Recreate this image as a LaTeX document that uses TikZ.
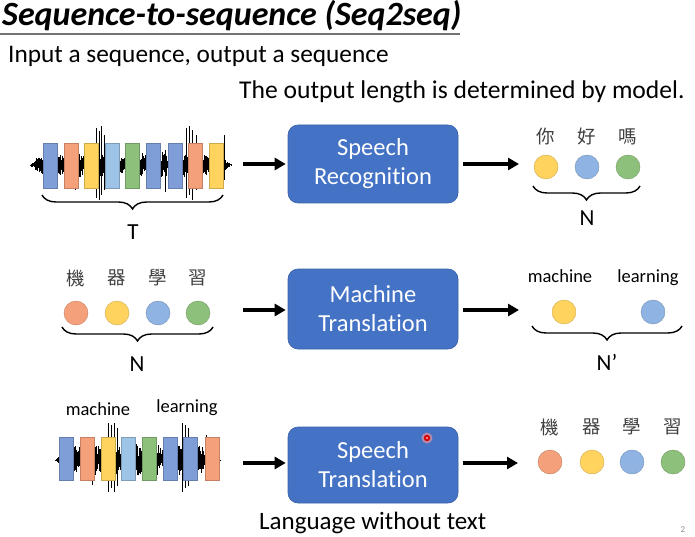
\documentclass[tikz,border=0pt]{standalone}
\usepackage{fontspec}
\setmainfont{Carlito}[Ligatures=NoCommon]
\newfontfamily\cjk{Noto Sans CJK TC}
\usetikzlibrary{arrows.meta,decorations.pathreplacing,calc}
\definecolor{boxblue}{HTML}{4472C4}
\definecolor{cblue}{HTML}{7F9ED8}
\definecolor{clight}{HTML}{9DC3E6}
\definecolor{corange}{HTML}{F4A07A}
\definecolor{cyellow}{HTML}{FFD35E}
\definecolor{cgreen}{HTML}{8DC07A}
\definecolor{ccirc}{HTML}{8FB4E3}
\newcommand\mywave[4]{%
  \pgfmathsetseed{#4}%
  \pgfmathtruncatemacro\nw{(#2-#1)/0.45}%
  \foreach \i in {0,...,\nw}{%
    \pgfmathsetmacro\xx{#1+0.45*\i}%
    \pgfmathsetmacro\env{min(1,min((\xx-#1)/14,(#2-\xx)/14))*(0.6+0.4*abs(sin(\xx*8.7)))}%
    \pgfmathsetmacro\au{\env*(3+13*rnd)}%
    \pgfmathsetmacro\ad{\env*(3+13*rnd)}%
    \draw[wavel] (\xx,#3-\au) -- (\xx,#3+\ad);
  }}
\begin{document}
\begin{tikzpicture}[x=1pt,y=-1pt,
  wavel/.style={line width=0.65pt,black},
  bar/.style={rectangle,minimum width=14pt,minimum height=45pt,inner sep=0pt,fill=#1,draw=#1!80!black,line width=0.4pt},
  dot/.style={circle,minimum size=24pt,inner sep=0pt,fill=#1,draw=#1!80!black,line width=0.4pt},
  proc/.style={rectangle,rounded corners=10pt,fill=boxblue,draw=boxblue!85!black,line width=0.6pt,
    minimum width=170pt,text=white,align=center,font=\fontsize{24.5}{29}\selectfont},
  arr/.style={line width=3.6pt,-{Triangle[length=11pt,width=12pt]}},
  brc/.style={decorate,decoration={brace,mirror,amplitude=14pt},line width=1.4pt},
  lab/.style={font=\fontsize{23}{26}\selectfont},
  word/.style={font=\fontsize{18.5}{20}\selectfont},
  zh/.style={font=\cjk\fontsize{18.5}{20}\selectfont,text=black!75}
]
\useasboundingbox (0,0) rectangle (695,537);
% title
\node[anchor=base west,inner sep=0pt,font=\fontsize{34}{36}\selectfont\bfseries\itshape] (title) at (2,26) {Sequence-to-sequence (Seq2seq)};
\draw[line width=1.3pt,black!55] (0,34) -- (460,34);
\node[anchor=base west,inner sep=0pt,font=\fontsize{25.3}{28}\selectfont] (sub1) at (8,63) {Input a sequence, output a sequence};
\node[anchor=base west,inner sep=0pt,font=\fontsize{25.6}{28}\selectfont] (sub2) at (239,98.5) {The output length is determined by model.};

% ---------- row 1 ----------
\mywave{30}{232}{165}{7}
\foreach \x/\t/\b in {96/128/198,99/131/200,101/126/195,104/135/190,186/128/198,189/126/195,192/130/200,196/135/190,75/150/190,165/150/192,224/135/180}
  \draw[wavel] (\x,\t) -- (\x,\b);
\foreach \x/\c [count=\k] in {50/cblue,71/corange,91/cyellow,112/clight,132.5/cgreen,153.5/cblue,175.5/cblue,195.5/corange,216.5/cyellow}
  \node[bar=\c] (ra\k) at (\x,165.5) {};
\draw[brc] (42,195) -- (223,195);
\node[lab] (T) at (133,232) {T};
\coordinate (in1) at (243,164);
\node[proc,minimum height=78pt] (sr) at (373,164) {Speech\\Recognition};
\coordinate (out1) at (519,164);
\draw[arr] (in1) -- ([xshift=-2pt]sr.west |- in1);
\draw[arr] ([xshift=5pt]sr.east |- out1) -- (out1);
\foreach \x/\c/\z [count=\k] in {546/cyellow/你,587/ccirc/好,628/cgreen/嗎}{
  \node[zh] (z1\k) at (\x,137) {\z};
  \node[dot=\c] (d1\k) at (\x,167) {};
}
\draw[brc] (533,186) -- (640,186);
\node[lab] (N1) at (587,218) {N};

% ---------- row 2 ----------
\foreach \x/\c/\z [count=\k] in {76/corange/機,117/cyellow/器,158/ccirc/學,198/cgreen/習}{
  \node[zh] (z2\k) at (\x,278) {\z};
  \node[dot=\c] (d2\k) at (\x,313) {};
}
\draw[brc] (62,327) -- (213,327);
\node[lab] (N2) at (137,364) {N};
\coordinate (in2) at (243,310);
\node[proc,minimum height=80pt] (mt) at (373,309) {Machine\\Translation};
\coordinate (out2) at (519,310);
\draw[arr] (in2) -- ([xshift=-2pt]mt.west |- in2);
\draw[arr] ([xshift=5pt]mt.east |- out2) -- (out2);
\node[word] (w21) at (560,276) {machine};
\node[word] (w22) at (648,278) {learning};
\node[dot=cyellow] (d31) at (564,312) {};
\node[dot=ccirc] (d32) at (653,312) {};
\draw[brc] (532,326) -- (682,326);
\node[lab] (N3) at (607,362) {N’};

% ---------- row 3 ----------
\node[word] (w31) at (98,409) {machine};
\node[word] (w32) at (187,408) {learning};
\mywave{55}{221}{460}{11}
\foreach \x/\t/\b in {108/423/492,111/425/488,114/423/492,117/428/486,182/423/492,185/425/488,188/428/486,92/445/485,206/435/470,168/440/480}
  \draw[wavel] (\x,\t) -- (\x,\b);
\foreach \x/\c [count=\k] in {66.5/cblue,87.5/corange,108.5/cyellow,128.5/clight,149.5/cgreen,170/cblue,190.5/cblue,212/corange}
  \node[bar=\c,minimum height=43pt] (rb\k) at (\x,458.5) {};
\coordinate (in3) at (243,463);
\node[proc,minimum height=76pt] (st) at (373,465) {Speech\\Translation};
\coordinate (out3) at (518,463);
\draw[arr] (in3) -- ([xshift=-2pt]st.west |- in3);
\draw[arr] ([xshift=5pt]st.east |- out3) -- (out3);
\foreach \x/\c/\z [count=\k] in {550/corange/機,592/cyellow/器,632/ccirc/學,673/cgreen/習}{
  \node[zh] (z3\k) at (\x,427) {\z};
  \node[dot=\c] (d3\k) at (\x,462) {};
}
\node[anchor=base west,inner sep=0pt,font=\fontsize{25}{28}\selectfont] (lwt) at (259,529) {Language without text};
\node[font=\fontsize{9}{10}\selectfont,text=black!45] (pg) at (683,530) {2};
% laser pointer dot
\fill[red!40,opacity=0.6] (427,438) circle (5.5);
\fill[red!85!black] (427,438) circle (3.2);
\fill[white!70!red] (427,438) circle (1.2);
\end{tikzpicture}
\end{document}
